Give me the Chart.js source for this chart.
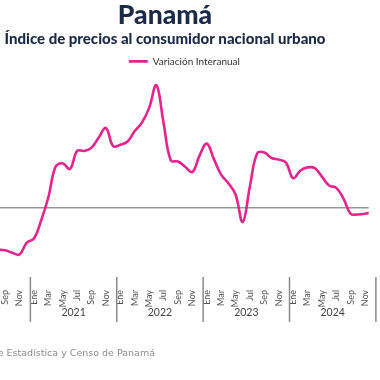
<!DOCTYPE html>
<html><head><meta charset="utf-8">
<script src="https://cdn.jsdelivr.net/npm/chart.js@4/dist/chart.umd.min.js"></script>
<style>
html,body{margin:0;padding:0;width:380px;height:380px;overflow:hidden;background:#fff;}
#wrap{position:absolute;left:-50px;top:0;width:430px;height:380px;}
</style></head><body>
<div id="wrap"><canvas id="c" width="430" height="380"></canvas></div>
<script>
const monthNames = ['Ene','Feb','Mar','Abr','May','Jun','Jul','Ago','Sep','Oct','Nov','Dic'];
const yearLabels = ['2021','2022','2023','2024'];
const firstMonthIndex = -5; // Ago 2020, counted from Ene 2021
const values2020 = [-1.80, -1.82, -1.93, -2.00, -1.50]; // Ago-Dic
const values2021 = [-1.32, -0.55, 0.43, 1.73, 1.87, 1.63, 2.40, 2.40, 2.54, 2.97, 3.37, 2.60];
const values2022 = [2.66, 2.80, 3.25, 3.60, 4.23, 5.19, 3.60, 2.00, 1.95, 1.73, 1.50, 2.20];
const values2023 = [2.71, 2.05, 1.39, 1.03, 0.55, -0.62, 0.90, 2.29, 2.33, 2.10, 2.03, 1.91];
const values2024 = [1.24, 1.56, 1.70, 1.67, 1.31, 0.93, 0.83, 0.37, -0.27, -0.30, -0.27, -0.20];
const seriesName = 'Variación Interanual';
const titleText = 'Panamá';
const subtitleText = 'Índice de precios al consumidor nacional urbano';
const sourceText = 'Fuente: Instituto Nacional de Estadística y Censo de Panamá';

const allValues = [].concat(values2020, values2021, values2022, values2023, values2024);
const points = allValues.map((v, k) => ({x: firstMonthIndex + k, y: v}));
const tickValues = [];
for (let i = -4; i <= 46; i += 2) tickValues.push(i);

const yearDecor = {
  id: 'yearDecor',
  afterDraw(chart) {
    const ctx = chart.ctx, xs = chart.scales.x;
    ctx.save();
    ctx.strokeStyle = '#8a8a8a';
    ctx.lineWidth = 1.5;
    for (let k = 0; k <= yearLabels.length; k++) {
      const px = xs.getPixelForValue(k * 12 - 0.5);
      ctx.beginPath();
      ctx.moveTo(px, xs.top - 1);
      ctx.lineTo(px, 322);
      ctx.stroke();
    }
    ctx.fillStyle = '#444';
    ctx.font = '10.5px Lato';
    ctx.textAlign = 'center';
    ctx.textBaseline = 'middle';
    yearLabels.forEach((y, k) => ctx.fillText(y, xs.getPixelForValue(k * 12 + 5.5), 313));
    ctx.fillStyle = '#8c8c8c';
    ctx.font = '9.5px "DejaVu Sans"';
    ctx.textAlign = 'right';
    ctx.fillText(sourceText, 205, 354);
    ctx.restore();
  }
};

new Chart(document.getElementById('c'), {
  type: 'line',
  data: {
    datasets: [{
      label: seriesName,
      data: points,
      borderColor: '#E5248E',
      backgroundColor: '#E5248E',
      borderWidth: 2.6,
      tension: 0.4,
      pointRadius: 0,
      fill: false
    }]
  },
  options: {
    responsive: false,
    animation: false,
    layout: {padding: 0},
    plugins: {
      title: {display: true, text: titleText, color: '#1B2A47',
        font: {family: 'Lato', size: 26.5, weight: '900', lineHeight: 1.05}, padding: {top: 2, bottom: 0}},
      subtitle: {display: true, text: subtitleText, color: '#1B2A47',
        font: {family: 'Lato', size: 15, weight: '900', lineHeight: 1.1}, padding: {top: 1, bottom: 5}},
      legend: {position: 'top', fullSize: false,
        labels: {usePointStyle: true, pointStyle: 'line', pointStyleWidth: 19, boxHeight: 9,
          padding: 4, color: '#333', font: {family: 'Lato', size: 10}}},
      tooltip: {enabled: false}
    },
    scales: {
      x: {
        type: 'linear', min: -4.72, max: 46.5,
        border: {display: false},
        grid: {display: false},
        afterBuildTicks: s => { s.ticks = tickValues.map(v => ({value: v})); },
        ticks: {autoSkip: false, maxRotation: 90, minRotation: 90, padding: 4, color: '#555',
          font: {family: 'Lato', size: 9},
          callback: v => monthNames[((v % 12) + 12) % 12]},
        afterFit: s => { s.height = 102; }
      },
      y: {
        min: -3.0, max: 5.57,
        border: {display: false},
        ticks: {display: false, stepSize: 1},
        grid: {drawTicks: false, lineWidth: 1.5,
          color: c => (c.tick && c.tick.value === 0) ? '#999999' : 'rgba(0,0,0,0)'},
        afterFit: s => { s.width = 50; }
      }
    }
  },
  plugins: [yearDecor]
});
</script>
</body></html>
